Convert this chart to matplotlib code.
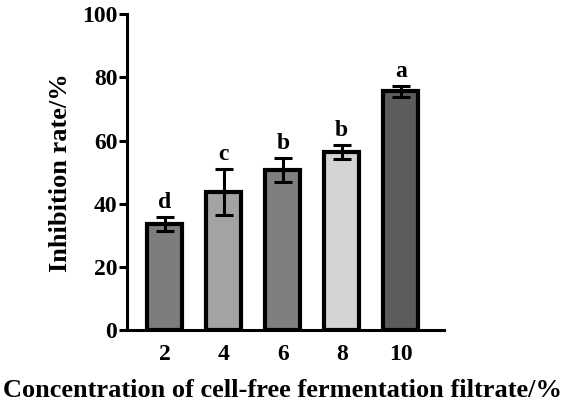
import matplotlib
matplotlib.use("Agg")
import matplotlib.pyplot as plt
import numpy as np

categories = ["2", "4", "6", "8", "10"]
values = [33.6, 43.8, 50.8, 56.4, 75.6]
errors = [2.3, 7.3, 3.8, 2.2, 1.8]
letters = ["d", "c", "b", "b", "a"]
colors = ["#7d7d7d", "#a3a3a3", "#7f7f7f", "#d4d4d4", "#5c5c5c"]

plt.rcParams['font.family'] = ['Liberation Serif', 'DejaVu Serif']
plt.rcParams['font.weight'] = 'bold'

fig = plt.figure(figsize=(5.66, 4.05), dpi=100)
ax = fig.add_axes([0.2244, 0.185, 0.5596, 0.78])

x = np.arange(len(categories))
ax.bar(x, values, width=0.593, color=colors, edgecolor="black", linewidth=3.0, zorder=2)
ax.errorbar(x, values, yerr=errors, fmt="none", ecolor="black", elinewidth=2.2,
            capsize=6.5, capthick=2.2, zorder=3)
for xi, v, e, l in zip(x, values, errors, letters):
    ax.text(xi, v + e + 1.2, l, ha="center", va="bottom", fontsize=17, fontweight="bold")

ax.set_xlim(-0.644, 4.73)
ax.set_ylim(0, 100)
ax.set_yticks([0, 20, 40, 60, 80, 100])
ax.set_xticks(x)
ax.set_xticklabels(categories)
ax.spines['top'].set_visible(False)
ax.spines['right'].set_visible(False)
ax.spines['left'].set_linewidth(2.2)
ax.spines['bottom'].set_linewidth(2.2)
ax.tick_params(axis='y', direction='out', length=6, width=2.2, labelsize=17, pad=1)
ax.tick_params(axis='x', direction='in', length=6, width=2.0, labelsize=17, pad=10)
for lab in ax.get_xticklabels() + ax.get_yticklabels():
    lab.set_fontweight('bold')
ax.set_ylabel("Inhibition rate/%", fontsize=19, fontweight="bold")
ax.set_xlabel("Concentration of cell-free fermentation filtrate/%", fontsize=19, fontweight="bold")
ax.xaxis.set_label_coords(0.49, -0.155)
ax.yaxis.set_label_coords(-0.175, 0.5)

fig.savefig("out.png", dpi=100)
